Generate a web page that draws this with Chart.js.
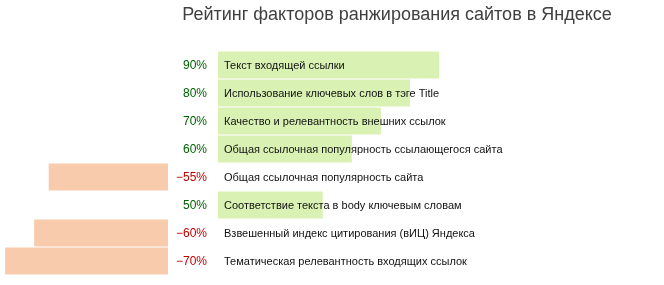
<!DOCTYPE html>
<html>
<head>
<meta charset="utf-8">
<script src="https://cdn.jsdelivr.net/npm/chart.js@4/dist/chart.umd.min.js"></script>
<style>
html,body{margin:0;padding:0;background:#fff;}
#wrap{width:664px;height:285px;position:relative;}
</style>
</head>
<body>
<div id="wrap"><canvas id="c" width="664" height="285"></canvas></div>
<script>
const chartTitle = 'Рейтинг факторов ранжирования сайтов в Яндексе';
const categories = [
  'Текст входящей ссылки',
  'Использование ключевых слов в тэге Title',
  'Качество и релевантность внешних ссылок',
  'Общая ссылочная популярность ссылающегося сайта',
  'Общая ссылочная популярность сайта',
  'Соответствие текста в body ключевым словам',
  'Взвешенный индекс цитирования (вИЦ) Яндекса',
  'Тематическая релевантность входящих ссылок'
];
const values = [90, 80, 70, 60, -55, 50, -60, -70];
const valueLabels = ['90%', '80%', '70%', '60%', '\u221255%', '50%', '\u221260%', '\u221270%'];

// layout constants
const PX_PER_UNIT = 2.91;   // pixels per percent
const BASE = 14;            // value at which bars start
const NEG_ZERO_PX = 168;    // pixel where negative bars end
const GAP_PX = 50;          // gap between negative and positive areas
const G = GAP_PX / PX_PER_UNIT;
const W = 664;

const floatData = values.map(v => v >= 0 ? [G, G + (v - BASE)] : [0, -(Math.abs(v) - BASE)]);
const colors = values.map(v => v >= 0 ? '#d9f2b3' : '#f8cbad');

const labelPlugin = {
  id: 'labels',
  afterDatasetsDraw(chart) {
    const ctx = chart.ctx;
    const meta = chart.getDatasetMeta(0);
    ctx.save();
    ctx.textBaseline = 'middle';
    meta.data.forEach((bar, i) => {
      const y = bar.y + 0.5;
      ctx.font = '12px "Liberation Sans", Arial, sans-serif';
      ctx.textAlign = 'right';
      ctx.fillStyle = values[i] >= 0 ? '#006100' : '#c00000';
      ctx.fillText(valueLabels[i], 207, y);
      ctx.font = '11px "Liberation Sans", Arial, sans-serif';
      ctx.textAlign = 'left';
      ctx.fillStyle = '#111111';
      ctx.fillText(categories[i], 224, y);
    });
    ctx.font = '18px "Liberation Sans", Arial, sans-serif';
    ctx.textAlign = 'center';
    ctx.textBaseline = 'alphabetic';
    ctx.fillStyle = '#404040';
    ctx.fillText(chartTitle, 397, 20);
    ctx.restore();
  }
};

new Chart(document.getElementById('c'), {
  type: 'bar',
  data: {
    labels: categories,
    datasets: [{
      data: floatData,
      backgroundColor: colors,
      borderWidth: 0,
      barPercentage: 0.965,
      categoryPercentage: 1
    }]
  },
  options: {
    indexAxis: 'y',
    responsive: false,
    animation: false,
    events: [],
    layout: { padding: { top: 51, bottom: 10, left: 0, right: 0 } },
    scales: {
      x: { type: 'linear', display: false, min: -NEG_ZERO_PX / PX_PER_UNIT, max: (W - NEG_ZERO_PX) / PX_PER_UNIT },
      y: { display: false }
    },
    plugins: { legend: { display: false }, tooltip: { enabled: false }, title: { display: false } }
  },
  plugins: [labelPlugin]
});
</script>
</body>
</html>
